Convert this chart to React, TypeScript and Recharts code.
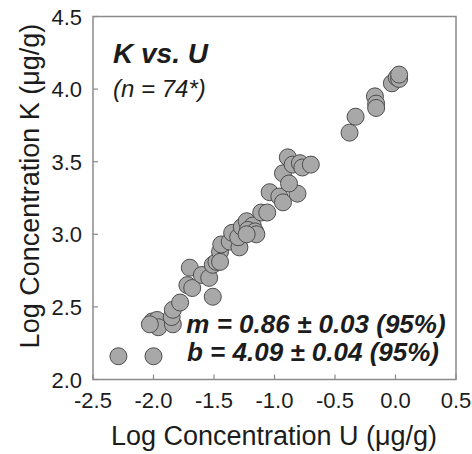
import { ScatterChart, Scatter, XAxis, YAxis, ReferenceArea } from "recharts";

// log10 U concentration (µg/g)
const logU = [
  -2.29, -2.0, -2.01, -1.97, -1.96, -2.03, -1.84, -1.85, -1.84, -1.78,
  -1.72, -1.68, -1.7, -1.6, -1.54, -1.51, -1.51, -1.48, -1.45, -1.44,
  -1.45, -1.37, -1.29, -1.35, -1.3, -1.27, -1.23, -1.18, -1.22, -1.16,
  -1.15, -1.23, -1.11, -1.06, -1.04, -0.96, -0.93, -0.81, -0.93, -0.88,
  -0.89, -0.85, -0.79, -0.77, -0.7, -0.38, -0.33, -0.17, -0.16, -0.16,
  -0.03, 0.01, 0.03, 0.03,
];
// log10 K concentration (µg/g)
const logK = [
  2.16, 2.16, 2.4, 2.41, 2.36, 2.38, 2.38, 2.43, 2.48, 2.53,
  2.65, 2.63, 2.77, 2.72, 2.7, 2.57, 2.79, 2.81, 2.88, 2.93,
  2.81, 2.95, 2.91, 3.01, 2.98, 3.05, 3.09, 3.06, 3.03, 3.02,
  3.0, 3.0, 3.15, 3.15, 3.29, 3.26, 3.22, 3.28, 3.42, 3.35,
  3.53, 3.48, 3.49, 3.46, 3.48, 3.7, 3.81, 3.95, 3.9, 3.87,
  4.04, 4.08, 4.07, 4.1,
];
const xTicks = [-2.5, -2.0, -1.5, -1.0, -0.5, 0.0, 0.5];
const yTicks = [2.0, 2.5, 3.0, 3.5, 4.0, 4.5];

const points = logU.map((u, i) => ({ u, k: logK[i] }));

const FONT = "'Liberation Sans', Arial, Helvetica, sans-serif";
const TEXT = "#1c1c1c";
const FRAME = "#8a8a8a";

function XTick({ x, y, payload }: any) {
  return (
    <g>
      <line x1={x} x2={x} y1={y} y2={y - 5} stroke={FRAME} strokeWidth={1.2} />
      <text x={x} y={y + 28.5} textAnchor="middle" fontSize={22} fontFamily={FONT} fill={TEXT}>
        {payload.value.toFixed(1)}
      </text>
    </g>
  );
}

function YTick({ x, y, payload }: any) {
  return (
    <g>
      <line x1={x} x2={x + 5} y1={y} y2={y} stroke={FRAME} strokeWidth={1.2} />
      <text x={x - 11} y={y + 8} textAnchor="end" fontSize={22} fontFamily={FONT} fill={TEXT}>
        {payload.value.toFixed(1)}
      </text>
    </g>
  );
}

function Dot({ cx, cy }: any) {
  return <circle cx={cx} cy={cy} r={8.5} fill="#a8a8a8" stroke="#4d4d4d" strokeWidth={1} />;
}

export default function App() {
  return (
    <div
      style={{
        position: "absolute",
        left: 0,
        top: 0,
        width: 472,
        height: 454,
        overflow: "hidden",
        background: "#fff",
      }}
    >
      <ScatterChart width={472} height={454} margin={{ top: 16.5, right: 16, bottom: 0, left: 0 }}>
        <XAxis
          type="number"
          dataKey="u"
          domain={[-2.5, 0.5]}
          ticks={xTicks}
          allowDataOverflow
          axisLine={false}
          tickLine={false}
          tickSize={0}
          tickMargin={0}
          height={74.5}
          tick={<XTick />}
          interval={0}
        />
        <YAxis
          type="number"
          dataKey="k"
          domain={[2, 4.5]}
          ticks={yTicks}
          allowDataOverflow
          axisLine={false}
          tickLine={false}
          tickSize={0}
          tickMargin={0}
          width={93}
          tick={<YTick />}
          interval={0}
        />
        <ReferenceArea x1={-2.5} x2={0.5} y1={2} y2={4.5} fill="none" fillOpacity={0} stroke={FRAME} strokeWidth={1.5} />
        <Scatter data={points} shape={<Dot />} isAnimationActive={false} />
      </ScatterChart>
      <svg
        width={472}
        height={454}
        style={{ position: "absolute", left: 0, top: 0, pointerEvents: "none" }}
        fontFamily={FONT}
        fill={TEXT}
      >
        <text x={113} y={63} fontSize={28} fontWeight="bold" fontStyle="italic">
          K vs. U
        </text>
        <text x={113} y={97} fontSize={24} fontStyle="italic">
          (n = 74*)
        </text>
        <text x={316} y={333} fontSize={26} fontWeight="bold" fontStyle="italic" textAnchor="middle">
          m = 0.86 ± 0.03 (95%)
        </text>
        <text x={313} y={361} fontSize={26} fontWeight="bold" fontStyle="italic" textAnchor="middle">
          b = 4.09 ± 0.04 (95%)
        </text>
        <text x={274} y={445} fontSize={27} textAnchor="middle">
          Log Concentration U (μg/g)
        </text>
        <text x={30} y={186} fontSize={27} textAnchor="middle" dominantBaseline="central" transform="rotate(-90 30 186)">
          Log Concentration K (μg/g)
        </text>
      </svg>
    </div>
  );
}
